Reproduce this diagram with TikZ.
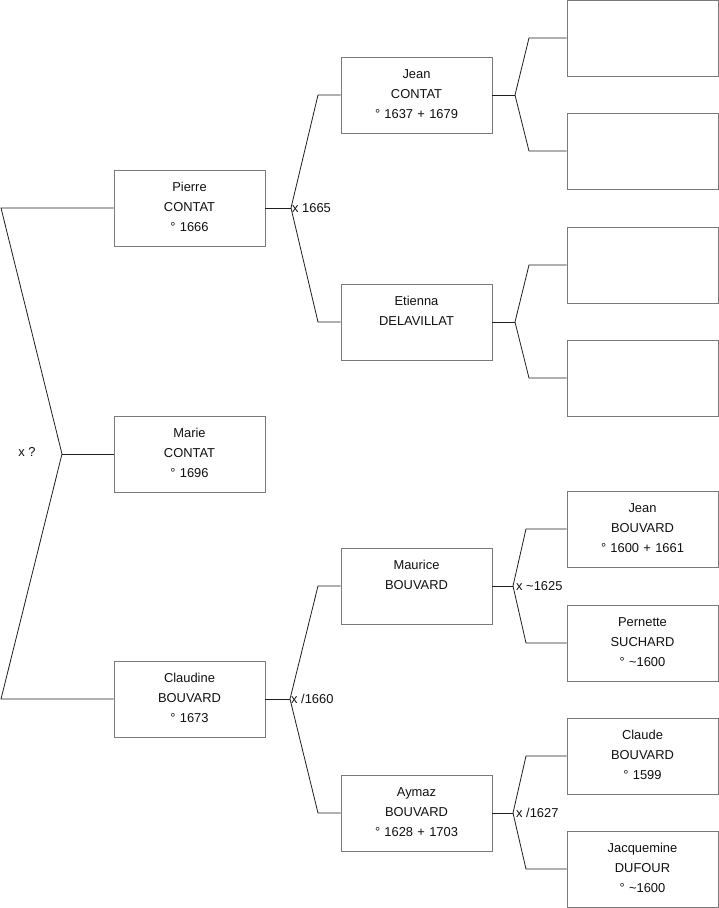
\documentclass[tikz,border=0pt]{standalone}
\usepackage{fontspec}
\setmainfont{Liberation Sans}
\usepackage{tikz}
\usetikzlibrary{positioning,calc}
\usepackage{xcolor}
\definecolor{boxline}{HTML}{7A7A7A}
\definecolor{wire}{HTML}{1E1E1E}
\definecolor{ink}{HTML}{111111}

\begin{document}
\begin{tikzpicture}[
  x=1pt, y=-1pt,
  font=\fontsize{12.9}{20}\selectfont,
  personcard/.style={
    draw=boxline,
    fill=white,
    line width=0.9pt,
    inner sep=0pt,
    text width=151pt,
    minimum width=151pt,
    minimum height=76pt,
    text height=21pt,
    text depth=55pt,
    align=center,
    text=ink
  },
  link/.style={
    draw=wire,
    line width=0.8pt
  },
  unionlabel/.style={
    font=\fontsize{12.9}{14}\selectfont,
    inner sep=1pt,
    text=ink
  }
]
  \useasboundingbox (0,0) rectangle (719,908);

  % =========================================================================
  % GENERATION 1
  % =========================================================================
  \node[personcard] (pierre) at (189.5, 208) {Pierre\\CONTAT\\° 1666};
  \node[personcard] (marie) at (189.5, 454) {Marie\\CONTAT\\° 1696};
  \node[personcard] (claudine) at (189.5, 699) {Claudine\\BOUVARD\\° 1673};

  % =========================================================================
  % GENERATION 2
  % =========================================================================
  \node[personcard] (jean_c) at (416.5, 95) {Jean\\CONTAT\\° 1637 + 1679};
  \node[personcard] (etienna) at (416.5, 322) {Etienna\\DELAVILLAT};
  \node[personcard] (maurice) at (416.5, 586) {Maurice\\BOUVARD};
  \node[personcard] (aymaz) at (416.5, 813) {Aymaz\\BOUVARD\\° 1628 + 1703};

  % =========================================================================
  % GENERATION 3
  % =========================================================================
  \node[personcard] (jean_c_f) at (642.5, 38) {};
  \node[personcard] (jean_c_m) at (642.5, 151) {};
  \node[personcard] (etienna_f) at (642.5, 265) {};
  \node[personcard] (etienna_m) at (642.5, 378) {};
  \node[personcard] (jean_b) at (642.5, 529) {Jean\\BOUVARD\\° 1600 + 1661};
  \node[personcard] (pernette) at (642.5, 643) {Pernette\\SUCHARD\\° \textasciitilde1600};
  \node[personcard] (claude) at (642.5, 756) {Claude\\BOUVARD\\° 1599};
  \node[personcard] (jacquemine) at (642.5, 869) {Jacquemine\\DUFOUR\\° \textasciitilde1600};

  % Forks
  \coordinate (f_marie) at (62, 454);
  \coordinate (k_pierre) at (1, 208);
  \coordinate (k_claudine) at (1, 699);
  \draw[link] (marie.west) -- (f_marie);
  \draw[link] (f_marie) -- (k_pierre) -- (pierre.west);
  \draw[link] (f_marie) -- (k_claudine) -- (claudine.west);
  \node[unionlabel] (u_marie) at (27, 452) {x ?};

  \coordinate (f_pierre) at (291, 208);
  \draw[link] (pierre.east) -- (f_pierre);
  \draw[link] (f_pierre) -- (318, 95) -- (jean_c.west);
  \draw[link] (f_pierre) -- (318, 322) -- (etienna.west);
  \node[unionlabel, anchor=west] (u_pierre) at (f_pierre) {x 1665};

  \coordinate (f_claudine) at (290, 699);
  \draw[link] (claudine.east) -- (f_claudine);
  \draw[link] (f_claudine) -- (318, 586) -- (maurice.west);
  \draw[link] (f_claudine) -- (318, 813) -- (aymaz.west);
  \node[unionlabel, anchor=west] (u_claudine) at (f_claudine) {x /1660};

  \coordinate (f_jean_c) at (515, 95);
  \draw[link] (jean_c.east) -- (f_jean_c);
  \draw[link] (f_jean_c) -- (529, 38) -- (jean_c_f.west);
  \draw[link] (f_jean_c) -- (529, 151) -- (jean_c_m.west);

  \coordinate (f_etienna) at (515, 322);
  \draw[link] (etienna.east) -- (f_etienna);
  \draw[link] (f_etienna) -- (529, 265) -- (etienna_f.west);
  \draw[link] (f_etienna) -- (529, 378) -- (etienna_m.west);

  \coordinate (f_maurice) at (513, 586);
  \draw[link] (maurice.east) -- (f_maurice);
  \draw[link] (f_maurice) -- (526, 529) -- (jean_b.west);
  \draw[link] (f_maurice) -- (526, 643) -- (pernette.west);
  \node[unionlabel, anchor=west, xshift=2pt] (u_maurice) at (f_maurice) {x \textasciitilde1625};

  \coordinate (f_aymaz) at (513, 813);
  \draw[link] (aymaz.east) -- (f_aymaz);
  \draw[link] (f_aymaz) -- (526, 756) -- (claude.west);
  \draw[link] (f_aymaz) -- (526, 869) -- (jacquemine.west);
  \node[unionlabel, anchor=west, xshift=2pt] (u_aymaz) at (f_aymaz) {x /1627};

\end{tikzpicture}
\end{document}
